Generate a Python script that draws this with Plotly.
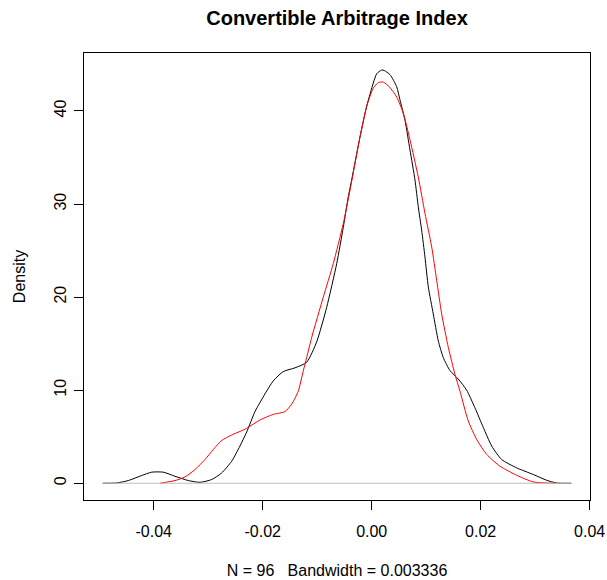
import plotly.graph_objects as go

# ---- data ----
black_x = [-0.04935, -0.04679, -0.04466, -0.04220, -0.04037, -0.03824, -0.03609, -0.03365,
           -0.03150, -0.02936, -0.02752, -0.02569, -0.02417, -0.02294, -0.02141, -0.01958,
           -0.01806, -0.01622, -0.01407, -0.01193, -0.01009, -0.00826, -0.00642, -0.00521,
           -0.00429, -0.00367, -0.00215, -0.00092, 0.00029, 0.00092, 0.00183, 0.00231,
           0.00336, 0.00459, 0.00519, 0.00611, 0.00703, 0.00794, 0.00855, 0.00917, 0.00978,
           0.01039, 0.01130, 0.01222, 0.01314, 0.01437, 0.01589, 0.01743, 0.01895, 0.02048,
           0.02202, 0.02385, 0.02661, 0.02965, 0.03211, 0.03394, 0.03662]
black_y = [0.0, 0.03, 0.29, 0.83, 1.19, 1.19, 0.75, 0.29,
           0.10, 0.40, 1.11, 2.37, 4.0, 5.5, 7.7, 9.6,
           11.0, 12.0, 12.4, 13.0, 15.2, 18.9, 23.6, 27.5,
           30.8, 32.6, 37.2, 40.5, 43.0, 44.0, 44.4, 44.35,
           43.9, 42.6, 41.2, 39.0, 35.8, 32.6, 29.7, 27.2, 24.3,
           21.1, 18.2, 15.3, 13.5, 12.1, 11.2, 10.0, 8.1, 6.0,
           4.0, 2.55, 1.65, 0.94, 0.32, 0.03, 0.0]

red_x = [-0.03884, -0.03609, -0.03426, -0.03242, -0.03059, -0.02906, -0.02752, -0.02569,
         -0.02294, -0.02050, -0.01806, -0.01591, -0.01468, -0.01347, -0.01255, -0.01193,
         -0.01101, -0.00888, -0.00705, -0.00521, -0.00398, -0.00215, -0.00092, 0.00029,
         0.00121, 0.00213, 0.00323, 0.00459, 0.00580, 0.00703, 0.00855, 0.00978, 0.01101,
         0.01193, 0.01284, 0.01406, 0.01528, 0.01620, 0.01772, 0.01927, 0.02110, 0.02354,
         0.02661, 0.02965, 0.03382]
red_y = [0.0, 0.29, 0.68, 1.47, 2.55, 3.63, 4.6, 5.18,
         5.9, 6.8, 7.4, 7.7, 8.5, 9.9, 12.08, 13.5,
         15.67, 20.0, 23.6, 27.9, 31.5, 37.2, 40.5, 42.45,
         43.05, 43.1, 42.6, 41.5, 39.75, 36.9, 32.9, 29.0, 25.4,
         21.8, 18.2, 14.6, 11.7, 9.9, 6.7, 4.7, 3.1, 1.83,
         0.86, 0.14, 0.0]

zero_x = [-0.04935, 0.03662]
zero_y = [0, 0]

x_tickvals = [-0.04, -0.02, 0.0, 0.02, 0.04]
x_ticktext = ["-0.04", "-0.02", "0.00", "0.02", "0.04"]
y_tickvals = [0, 10, 20, 30, 40]
y_ticktext = ["0", "10", "20", "30", "40"]

title_text = "Convertible Arbitrage Index"
x_title = "N = 96   Bandwidth = 0.003336"
y_title = "Density"

FONT = "Liberation Sans, Arial, sans-serif"

fig = go.Figure()
fig.add_trace(go.Scatter(x=black_x, y=black_y, mode="lines",
                         line=dict(color="black", width=1, shape="spline", smoothing=0.6),
                         showlegend=False, hoverinfo="skip"))
fig.add_trace(go.Scatter(x=red_x, y=red_y, mode="lines",
                         line=dict(color="#FF0000", width=1, shape="spline", smoothing=0.6),
                         showlegend=False, hoverinfo="skip"))
fig.add_trace(go.Scatter(x=zero_x, y=zero_y, mode="lines",
                         line=dict(color="#BEBEBE", width=1),
                         showlegend=False, hoverinfo="skip"))

fig.update_layout(
    width=607, height=580,
    margin=dict(l=84, r=17, t=53, b=80),
    paper_bgcolor="white", plot_bgcolor="white",
    font=dict(family=FONT, size=16, color="black"),
    title=dict(text="<b>" + title_text + "</b>", x=337 / 607, xanchor="center",
               y=1 - 18 / 580, yanchor="middle",
               font=dict(family=FONT, size=20, color="black")),
    xaxis=dict(range=[-0.05279, 0.04006], tickvals=x_tickvals, ticktext=x_ticktext,
               showgrid=False, zeroline=False, showline=True, linecolor="black",
               linewidth=1, mirror=True, ticks="outside", ticklen=9, tickwidth=1,
               tickcolor="black", tickfont=dict(size=16), ticklabelstandoff=8,
               automargin=False,
               title=dict(text=x_title, standoff=25, font=dict(size=16))),
    yaxis=dict(range=[-1.8, 46.23], tickvals=y_tickvals, ticktext=y_ticktext,
               showgrid=False, zeroline=False, showline=True, linecolor="black",
               linewidth=1, mirror=True, ticks="outside", ticklen=9, tickwidth=1,
               tickcolor="black", tickangle=-90, tickfont=dict(size=16),
               ticklabelstandoff=2, automargin=False,
               title=dict(text=y_title, standoff=21, font=dict(size=16))),
)

fig.write_html("out.html")
